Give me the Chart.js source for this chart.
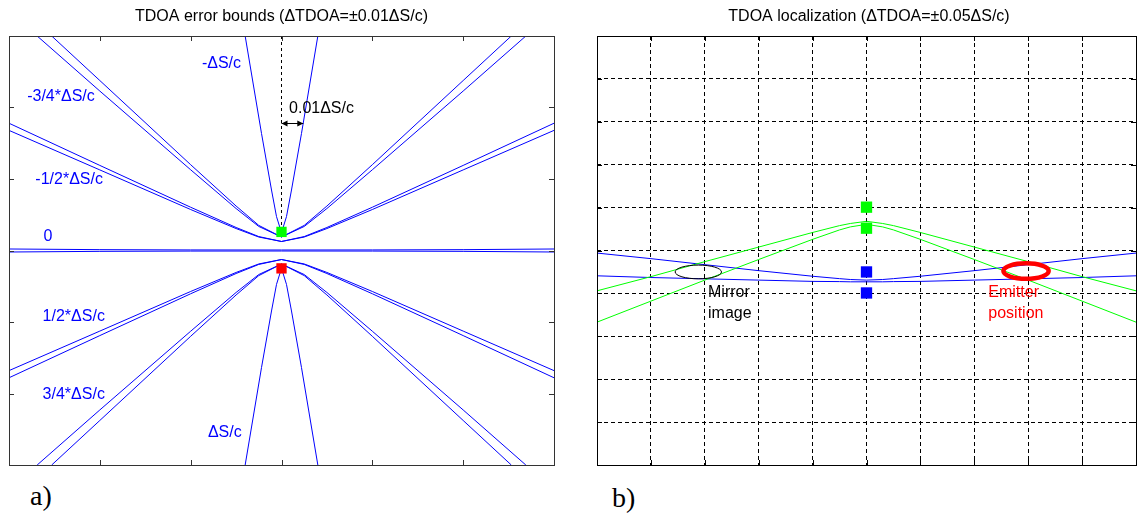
<!DOCTYPE html>
<html lang="en">
<head>
<meta charset="UTF-8">
<title>TDOA error bounds and localization</title>
<script src="https://cdn.jsdelivr.net/npm/chart.js"></script>
<style>
  body { margin: 0; background: #fff; }
  .stage { position: relative; width: 1144px; height: 520px; overflow: hidden; }
  canvas { position: absolute; top: 0; }
  #boundsChart { left: 0; }
  #localChart { left: 580px; }
  .tag {
    position: absolute;
    font-family: 'Liberation Serif', 'Times New Roman', serif;
    font-size: 28px;
    color: #000;
  }
</style>
</head>
<body>
<div class="stage">
  <canvas id="boundsChart" width="570" height="480"></canvas>
  <canvas id="localChart" width="564" height="480"></canvas>
  <div class="tag" style="left:30px; top:480px;">a)</div>
  <div class="tag" style="left:612px; top:482px;">b)</div>
</div>

<script>
// ---- a) error bounds: hyperbola pairs (x, y in tick units) ----
const bandX = [-3, -2, -1, -0.5, -0.25, 0, 0.25, 0.5, 1, 2, 3];
const negHalfOuter = [1.78, 1.19, 0.605, 0.322, 0.195, 0.126, 0.195, 0.322, 0.605, 1.19, 1.78];
const negHalfInner = [1.68, 1.127, 0.573, 0.307, 0.188, 0.126, 0.188, 0.307, 0.573, 1.127, 1.68];
const posHalfOuter = [-1.78, -1.19, -0.605, -0.322, -0.195, -0.126, -0.195, -0.322, -0.605, -1.19, -1.78];
const posHalfInner = [-1.68, -1.127, -0.573, -0.307, -0.188, -0.126, -0.188, -0.307, -0.573, -1.127, -1.68];

const q3OuterX = [-2.69, -2, -1, -0.5, -0.25, 0, 0.25, 0.5, 1, 2, 2.69];
const q3InnerX = [-2.53, -2, -1, -0.5, -0.25, 0, 0.25, 0.5, 1, 2, 2.53];
const negQ3Outer = [3, 2.23, 1.129, 0.587, 0.336, 0.189, 0.336, 0.587, 1.129, 2.23, 3];
const negQ3Inner = [3, 2.377, 1.2, 0.622, 0.351, 0.189, 0.351, 0.622, 1.2, 2.377, 3];
const posQ3Outer = [-3, -2.23, -1.129, -0.587, -0.336, -0.189, -0.336, -0.587, -1.129, -2.23, -3];
const posQ3Inner = [-3, -2.377, -1.2, -0.622, -0.351, -0.189, -0.351, -0.622, -1.2, -2.377, -3];

const fullX = [-0.4, -0.22, -0.11, -0.055, 0, 0.055, 0.11, 0.22, 0.4];
const negFull = [3, 1.636, 0.846, 0.474, 0.249, 0.474, 0.846, 1.636, 3];
const posFull = [-3, -1.636, -0.846, -0.474, -0.249, -0.474, -0.846, -1.636, -3];

const zeroX = [-3, -2, -1, 0, 1, 2, 3];
const zeroUpper = [0.021, 0.012, 0.008, 0.007, 0.008, 0.012, 0.021];
const zeroLower = [-0.021, -0.012, -0.008, -0.007, -0.008, -0.012, -0.021];

const guideX = [0, 0];
const guideY = [3, 0.33];
const sensorTop = [0, 0.26];
const sensorBottom = [0, -0.25];

// ---- b) localization (x, y in grid units) ----
const locX = [-5, -4, -3, -2, -1, -0.5, -0.3, 0, 0.3, 0.5, 1, 2, 3, 4, 5];
const greenShallow = [-0.94, -0.61, -0.26, 0.08, 0.42, 0.58, 0.63, 0.68, 0.63, 0.58, 0.42, 0.08, -0.26, -0.61, -0.94];
const greenSteep = [-1.67, -1.18, -0.69, -0.21, 0.26, 0.48, 0.55, 0.61, 0.55, 0.48, 0.26, -0.21, -0.69, -1.18, -1.67];
const blueUpper = [-0.06, -0.19, -0.33, -0.47, -0.6, -0.656, -0.676, -0.69, -0.676, -0.656, -0.6, -0.47, -0.33, -0.19, -0.06];
const blueLower = [-0.59, -0.63, -0.66, -0.69, -0.72, -0.725, -0.73, -0.73, -0.73, -0.725, -0.72, -0.69, -0.66, -0.63, -0.59];
const greenSensorsY = [1.01, 0.52];
const blueSensorsY = [-0.5, -0.99];
const mirrorSpot = [-3.12, -0.5, 0.43, 0.16];   // centre x, centre y, half width, half height
const emitterSpot = [2.96, -0.48, 0.42, 0.18];

const BLUE = '#0000ff';
const GREEN = '#00ff00';
const FONT = '"Liberation Sans", Arial, sans-serif';
Chart.defaults.font.family = FONT;

function curve(xs, ys, color, extra) {
    return Object.assign({
        data: xs.map((x, i) => ({ x: x, y: ys[i] })),
        showLine: true,
        borderColor: color,
        borderWidth: 1,
        pointRadius: 0,
        fill: false,
        tension: 0
    }, extra || {});
}

function squares(points, color, radius) {
    return {
        data: points.map(p => ({ x: p[0], y: p[1] })),
        showLine: false,
        pointStyle: 'rect',
        pointRadius: radius,
        pointBorderWidth: 0,
        backgroundColor: color,
        borderColor: color
    };
}

// frame, inward ticks, text and marks drawn in data coordinates
const overlayPlugin = {
    id: 'overlay',
    afterDatasetsDraw(chart, args, opts) {
        const { ctx, chartArea: a, scales: { x, y } } = chart;
        ctx.save();

        ctx.strokeStyle = opts.frameColor;
        ctx.lineWidth = 1;
        ctx.beginPath();
        x.ticks.forEach(t => {
            if (t.value <= x.min || t.value >= x.max) return;
            const px = Math.round(x.getPixelForValue(t.value)) + 0.5;
            ctx.moveTo(px, a.bottom); ctx.lineTo(px, a.bottom - 5);
            ctx.moveTo(px, a.top); ctx.lineTo(px, a.top + 5);
        });
        y.ticks.forEach(t => {
            if (t.value <= y.min || t.value >= y.max) return;
            const py = Math.round(y.getPixelForValue(t.value)) + 0.5;
            ctx.moveTo(a.left, py); ctx.lineTo(a.left + 5, py);
            ctx.moveTo(a.right, py); ctx.lineTo(a.right - 5, py);
        });
        ctx.stroke();
        ctx.strokeRect(Math.round(a.left) + 0.5, Math.round(a.top) + 0.5,
            Math.round(a.right - a.left), Math.round(a.bottom - a.top));

        (opts.rings || []).forEach(r => {
            const cx = x.getPixelForValue(r.spot[0]);
            const cy = y.getPixelForValue(r.spot[1]);
            const rx = Math.abs(x.getPixelForValue(r.spot[0] + r.spot[2]) - cx);
            const ry = Math.abs(y.getPixelForValue(r.spot[1] + r.spot[3]) - cy);
            ctx.strokeStyle = r.color;
            ctx.lineWidth = r.width;
            ctx.beginPath();
            ctx.ellipse(cx, cy, rx, ry, 0, 0, Math.PI * 2);
            ctx.stroke();
        });

        (opts.arrows || []).forEach(ar => {
            const x1 = x.getPixelForValue(ar.from);
            const x2 = x.getPixelForValue(ar.to);
            const py = Math.round(y.getPixelForValue(ar.at)) + 0.5;
            ctx.strokeStyle = '#000';
            ctx.fillStyle = '#000';
            ctx.lineWidth = 1;
            ctx.beginPath();
            ctx.moveTo(x1, py); ctx.lineTo(x2, py);
            ctx.stroke();
            ctx.beginPath();
            ctx.moveTo(x1, py); ctx.lineTo(x1 + 6, py - 3); ctx.lineTo(x1 + 6, py + 3); ctx.closePath();
            ctx.moveTo(x2, py); ctx.lineTo(x2 - 6, py - 3); ctx.lineTo(x2 - 6, py + 3); ctx.closePath();
            ctx.fill();
        });

        ctx.font = '16px ' + FONT;
        ctx.textAlign = 'left';
        ctx.textBaseline = 'middle';
        (opts.labels || []).forEach(l => {
            ctx.fillStyle = l.color;
            ctx.fillText(l.text, x.getPixelForValue(l.x), y.getPixelForValue(l.y));
        });
        ctx.restore();
    }
};

function hiddenAxis(min, max, grid) {
    return {
        type: 'linear',
        min: min,
        max: max,
        ticks: { display: false, stepSize: 1 },
        grid: grid || { display: false, drawTicks: false },
        border: { display: false, dash: [4, 3] }
    };
}

function titleOpts(text) {
    return {
        display: true,
        text: text,
        color: '#000',
        font: { size: 16, weight: 'normal' },
        padding: { top: 7, bottom: 9.8 }
    };
}

// ---- chart a) ----
new Chart(document.getElementById('boundsChart'), {
    type: 'scatter',
    data: {
        datasets: [
            squares([sensorTop], GREEN, 7.3),
            squares([sensorBottom], '#ff0000', 7.3),
            curve(guideX, guideY, '#000', { borderDash: [3, 3] }),
            curve(fullX, negFull, BLUE),
            curve(fullX, posFull, BLUE),
            curve(q3OuterX, negQ3Outer, BLUE),
            curve(q3InnerX, negQ3Inner, BLUE),
            curve(q3OuterX, posQ3Outer, BLUE),
            curve(q3InnerX, posQ3Inner, BLUE),
            curve(bandX, negHalfOuter, BLUE),
            curve(bandX, negHalfInner, BLUE),
            curve(bandX, posHalfOuter, BLUE),
            curve(bandX, posHalfInner, BLUE),
            curve(zeroX, zeroUpper, BLUE),
            curve(zeroX, zeroLower, BLUE)
        ]
    },
    options: {
        responsive: false,
        animation: false,
        events: [],
        layout: { padding: { left: 9, right: 16, top: 0, bottom: 15 } },
        scales: { x: hiddenAxis(-3, 3), y: hiddenAxis(-3, 3) },
        plugins: {
            legend: { display: false },
            tooltip: { enabled: false },
            title: titleOpts('TDOA error bounds (\u0394TDOA=\u00b10.01\u0394S/c)'),
            overlay: {
                frameColor: '#333',
                arrows: [{ from: 0, to: 0.24, at: 1.78 }],
                labels: [
                    { text: '-\u0394S/c', x: -0.876, y: 2.61, color: BLUE },
                    { text: '-3/4*\u0394S/c', x: -2.8, y: 2.15, color: BLUE },
                    { text: '-1/2*\u0394S/c', x: -2.71, y: 0.99, color: BLUE },
                    { text: '0', x: -2.62, y: 0.2, color: BLUE },
                    { text: '1/2*\u0394S/c', x: -2.63, y: -0.93, color: BLUE },
                    { text: '3/4*\u0394S/c', x: -2.63, y: -2.02, color: BLUE },
                    { text: '\u0394S/c', x: -0.81, y: -2.55, color: BLUE },
                    { text: '0.01\u0394S/c', x: 0.083, y: 1.98, color: '#000' }
                ]
            }
        }
    },
    plugins: [overlayPlugin]
});

// ---- chart b) ----
const dashedGrid = { display: true, color: '#000', lineWidth: 1, drawTicks: false };

new Chart(document.getElementById('localChart'), {
    type: 'scatter',
    data: {
        datasets: [
            squares(greenSensorsY.map(v => [0, v]), GREEN, 8),
            squares(blueSensorsY.map(v => [0, v]), BLUE, 8),
            curve(locX, greenShallow, GREEN),
            curve(locX, greenSteep, GREEN),
            curve(locX, blueUpper, BLUE),
            curve(locX, blueLower, BLUE)
        ]
    },
    options: {
        responsive: false,
        animation: false,
        events: [],
        layout: { padding: { left: 17, right: 3, top: 0, bottom: 15 } },
        scales: { x: hiddenAxis(-5, 5, dashedGrid), y: hiddenAxis(-5, 5, dashedGrid) },
        plugins: {
            legend: { display: false },
            tooltip: { enabled: false },
            title: titleOpts('TDOA localization (\u0394TDOA=\u00b10.05\u0394S/c)'),
            overlay: {
                frameColor: '#000',
                rings: [
                    { spot: mirrorSpot, color: '#000', width: 1 },
                    { spot: emitterSpot, color: '#ff0000', width: 4.5 }
                ],
                labels: [
                    { text: 'Mirror', x: -2.94, y: -0.99, color: '#000' },
                    { text: 'image', x: -2.94, y: -1.46, color: '#000' },
                    { text: 'Emitter', x: 2.26, y: -0.99, color: '#ff0000' },
                    { text: 'position', x: 2.26, y: -1.46, color: '#ff0000' }
                ]
            }
        }
    },
    plugins: [overlayPlugin]
});
</script>
</body>
</html>
